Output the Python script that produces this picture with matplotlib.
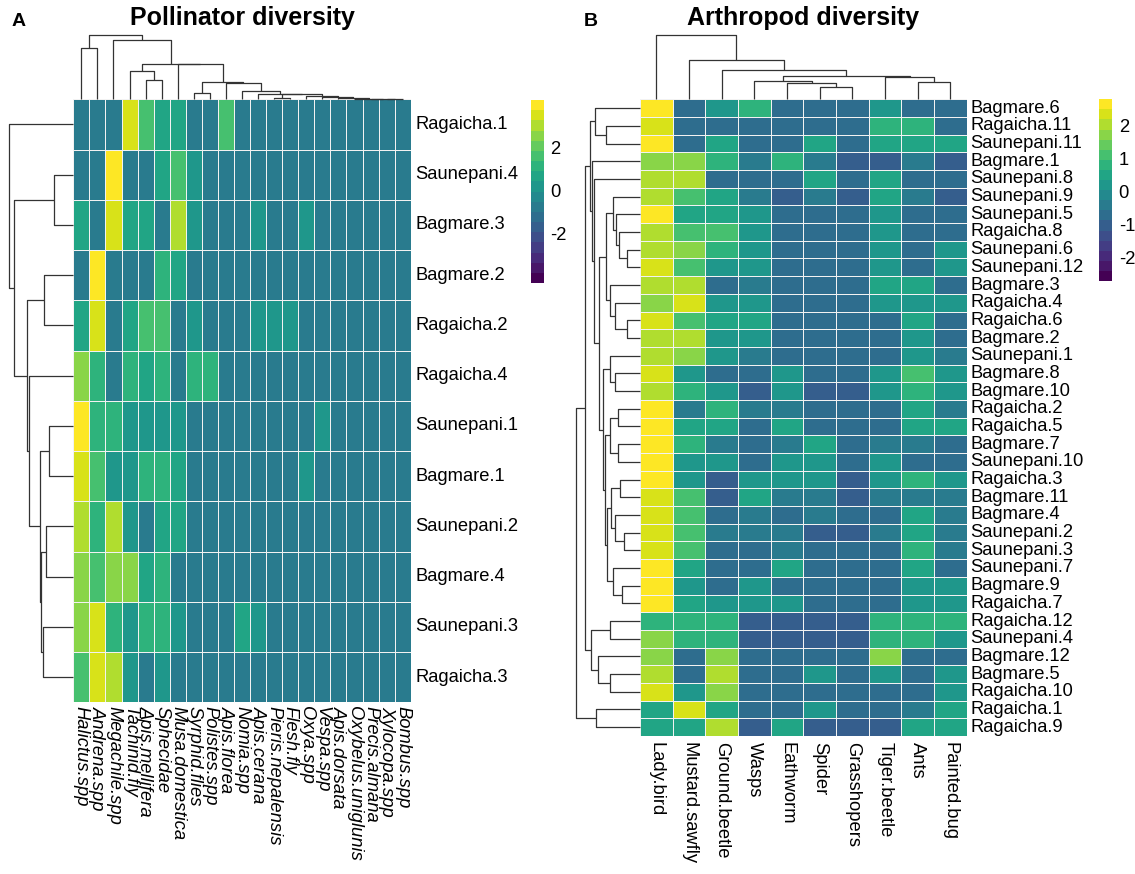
import numpy as np
import matplotlib
matplotlib.use("Agg")
import matplotlib.pyplot as plt
from matplotlib.colors import ListedColormap, BoundaryNorm
from matplotlib.transforms import offset_copy

plt.rcParams['font.family'] = ['Liberation Sans', 'DejaVu Sans']

# ---------------- Panel A data ----------------
pol_rows = ["Ragaicha.1", "Saunepani.4", "Bagmare.3", "Bagmare.2", "Ragaicha.2",
            "Ragaicha.4", "Saunepani.1", "Bagmare.1", "Saunepani.2", "Bagmare.4",
            "Saunepani.3", "Ragaicha.3"]
pol_cols = ["Halictus.spp", "Andrena.spp", "Megachile.spp", "Tachinid.fly",
            "Apis.mellifera", "Sphecidae", "Musa.domestica", "Syrphid.flies",
            "Polistes.spp", "Apis.florea", "Nomia.spp", "Apis.cerana",
            "Pieris.nepalensis", "Flesh.fly", "Oxya.spp", "Vespa.spp",
            "Apis.dorsata", "Oxybelus.uniglunis", "Precis.almana",
            "Xylocopa.spp", "Bombus.spp"]
pol_values = [
    [-0.75, -0.75, -0.75, 3.5, 1.6, 0.65, 0.65, -0.75, -0.75, 1.6, -0.75, -0.75, -0.75, -0.75, -0.75, -0.75, -0.75, -0.75, -0.75, -0.75, -0.75],
    [-0.75, -0.75, 4.0, -0.75, -0.75, 0.65, 1.6, 0.2, -0.75, -0.75, -0.75, -0.75, -0.75, -0.75, -0.75, -0.75, -0.75, -0.75, -0.75, -0.75, -0.75],
    [0.65, -0.75, 3.5, 0.65, 0.65, -0.75, 3.0, 0.2, -0.75, -0.75, -0.75, 0.2, -0.75, -0.75, 0.2, -0.75, -0.75, -0.75, -0.75, -0.75, -0.75],
    [-0.75, 4.0, -0.75, -0.75, -0.75, 1.1, 0.65, -0.75, -0.75, -0.75, -0.75, -0.75, -0.75, -0.75, -0.75, -0.75, -0.75, -0.75, -0.75, -0.75, -0.75],
    [0.65, 3.5, -0.75, 0.65, 1.6, 1.6, -0.75, 0.2, -0.75, -0.75, -0.75, 0.2, 0.2, 0.2, -0.75, -0.75, -0.75, -0.75, -0.75, -0.75, -0.75],
    [2.5, 1.1, -0.75, 1.1, 0.65, 1.1, -0.75, 1.1, 1.1, -0.75, -0.75, -0.75, -0.75, -0.75, -0.75, -0.75, -0.75, -0.75, -0.75, -0.75, -0.75],
    [4.0, 1.1, 1.1, 0.2, 0.2, 0.2, 0.2, -0.75, -0.75, -0.75, -0.75, -0.75, -0.75, -0.75, -0.75, 0.2, -0.75, -0.75, -0.75, -0.75, -0.75],
    [3.5, 1.6, 0.2, 0.2, 1.1, 1.1, 0.65, -0.75, -0.75, -0.75, -0.75, -0.75, -0.75, -0.75, 0.2, -0.75, -0.75, -0.75, -0.75, -0.75, -0.75],
    [3.0, 1.1, 3.0, 0.2, -0.75, 0.65, 0.65, -0.75, -0.75, -0.75, -0.75, -0.75, -0.75, -0.75, -0.75, -0.75, -0.75, -0.75, -0.75, -0.75, -0.75],
    [2.5, 1.6, 2.5, 2.5, 0.65, 1.1, -0.75, -0.75, -0.75, -0.75, -0.75, -0.75, -0.75, -0.75, -0.75, -0.75, -0.75, -0.75, -0.75, -0.75, -0.75],
    [2.5, 3.5, 1.1, 0.2, 1.1, 1.1, 0.2, -0.75, -0.75, -0.75, 0.65, 0.2, -0.75, -0.75, -0.75, -0.75, -0.75, -0.75, -0.75, -0.75, -0.75],
    [1.6, 3.5, 3.0, 0.2, -0.75, 0.2, -0.75, -0.75, -0.75, -0.75, -0.75, -0.75, -0.75, -0.75, -0.75, -0.75, -0.75, -0.75, -0.75, -0.75, -0.75],
]
pol_range = (-4.3, 4.2)
pol_ticks = [2, 0, -2]
# dendrogram merges: (child a, child b, height); ids >= n refer to earlier merges
pol_col_tree = [
    (0, 1, 0.797), (4, 5, 0.307), (3, 22, 0.443), (7, 8, 0.094),
    (19, 20, 0.003), (18, 25, 0.005), (17, 26, 0.008), (16, 27, 0.02),
    (15, 28, 0.031), (14, 29, 0.057), (12, 13, 0.015), (31, 30, 0.078),
    (11, 32, 0.09), (10, 33, 0.130), (9, 34, 0.25), (24, 35, 0.266),
    (6, 36, 0.547), (23, 37, 0.557), (2, 38, 0.922), (21, 39, 1.0),
]
pol_row_tree = [
    (1, 2, 0.304), (3, 4, 0.461), (6, 7, 0.372), (8, 9, 0.429),
    (10, 11, 0.471), (15, 16, 0.503), (14, 17, 0.524), (5, 18, 0.691),
    (13, 19, 0.723), (12, 20, 0.927), (0, 21, 1.0),
]

# ---------------- Panel B data ----------------
art_rows = ["Bagmare.6", "Ragaicha.11", "Saunepani.11", "Bagmare.1", "Saunepani.8",
            "Saunepani.9", "Saunepani.5", "Ragaicha.8", "Saunepani.6", "Saunepani.12",
            "Bagmare.3", "Ragaicha.4", "Ragaicha.6", "Bagmare.2", "Saunepani.1",
            "Bagmare.8", "Bagmare.10", "Ragaicha.2", "Ragaicha.5", "Bagmare.7",
            "Saunepani.10", "Ragaicha.3", "Bagmare.11", "Bagmare.4", "Saunepani.2",
            "Saunepani.3", "Saunepani.7", "Bagmare.9", "Ragaicha.7", "Ragaicha.12",
            "Saunepani.4", "Bagmare.12", "Bagmare.5", "Ragaicha.10", "Ragaicha.1",
            "Ragaicha.9"]
art_cols = ["Lady.bird", "Mustard.sawfly", "Ground.beetle", "Wasps", "Eathworm",
            "Spider", "Grasshopers", "Tiger.beetle", "Ants", "Painted.bug"]
art_values = [
    [2.7, -0.7, 0.2, 0.8, -0.7, -0.7, -0.7, 0.2, -0.7, -0.7],
    [2.35, -0.7, -0.7, -0.7, -0.7, -0.7, -0.7, 0.8, 0.8, -0.7],
    [2.7, -0.7, 0.5, -0.7, -0.7, 0.5, -0.7, 0.5, 0.5, 0.5],
    [1.7, 1.7, 0.8, -0.4, 0.8, -0.4, -1.0, -1.0, -0.4, -1.0],
    [2.0, 2.0, -0.7, -0.7, -0.7, 0.5, -0.7, 0.5, -0.7, -0.7],
    [2.0, 1.1, 0.5, -0.4, -1.0, -0.4, -1.0, 0.5, -0.4, -1.0],
    [2.7, 0.5, 0.5, 0.2, -0.7, -0.7, -0.7, 0.2, -0.7, -0.7],
    [2.0, 1.1, 1.1, 0.2, -0.7, -0.7, -0.7, 0.2, -0.7, -0.7],
    [2.0, 1.7, 0.8, 0.2, -0.7, -0.7, -0.7, 0.2, -0.7, 0.2],
    [2.35, 1.1, 0.2, 0.2, -0.7, -0.7, -0.7, 0.2, -0.7, 0.2],
    [2.0, 2.0, -0.7, -0.4, -0.7, -0.7, -0.7, 0.5, 0.5, -0.7],
    [1.7, 2.35, 0.2, 0.2, -0.7, -0.7, -0.7, 0.2, 0.2, 0.2],
    [2.35, 1.1, 0.5, 0.5, -0.7, -0.7, -0.7, -0.7, 0.5, -0.7],
    [2.0, 2.0, 0.2, 0.2, -0.7, -0.7, -0.7, -0.7, 0.2, -0.7],
    [2.0, 1.7, 0.2, -0.4, -0.7, -0.7, -0.7, -0.7, 0.2, -0.4],
    [2.35, 0.2, -0.7, -0.7, 0.2, -0.7, -0.7, 0.2, 1.1, 0.2],
    [2.0, 0.8, 0.2, -1.0, 0.2, -1.0, -1.0, 0.2, 0.8, 0.2],
    [2.7, -0.4, 0.8, -0.4, -0.4, -0.7, -0.7, -0.7, 0.5, -0.4],
    [2.7, 0.5, 0.5, -0.7, 0.5, -0.7, -0.7, -0.7, 0.5, 0.5],
    [2.7, 0.8, -0.4, -0.7, -0.4, 0.5, -0.7, -0.4, -0.4, -0.7],
    [2.7, 0.2, 0.2, -0.7, 0.2, 0.2, -0.7, 0.2, -0.7, -0.7],
    [2.7, 0.2, -1.0, 0.2, 0.2, 0.2, -1.0, 0.2, 0.8, 0.2],
    [2.35, 1.1, -1.0, 0.5, -0.4, -0.4, -1.0, -0.4, -0.4, -0.4],
    [2.35, 1.1, -0.7, -0.4, -0.7, -0.4, -0.7, -0.7, 0.5, -0.4],
    [2.35, 1.1, -0.4, -0.4, -0.4, -1.0, -1.0, -0.4, 0.5, -0.4],
    [2.35, 1.1, -0.7, -0.7, -0.4, -0.7, -0.7, -0.7, 0.8, -0.4],
    [2.7, 0.5, -0.7, -0.7, 0.5, -0.7, -0.7, -0.7, 0.5, -0.7],
    [2.7, 0.2, -0.7, 0.2, -0.7, -0.7, -0.7, -0.7, 0.2, 0.2],
    [2.7, 0.5, 0.2, 0.2, 0.2, -0.7, -0.7, -0.7, 0.2, 0.2],
    [0.8, 0.8, 0.8, -1.0, -1.0, -1.0, -1.0, 0.8, 0.8, 0.8],
    [1.7, 0.8, 0.8, -1.0, -1.0, -1.0, -1.0, 0.8, 0.8, 0.2],
    [1.7, -0.7, 1.7, -0.7, -0.7, -0.7, -0.7, 1.7, -0.7, -0.7],
    [2.0, -0.7, 2.0, -0.7, -0.7, 0.2, -0.7, 0.2, -0.7, 0.2],
    [2.35, 0.2, 1.7, -0.7, -0.7, -0.7, -0.7, -0.7, -0.7, 0.2],
    [0.5, 2.35, 0.5, -0.7, -0.7, 0.2, -0.7, -0.7, -0.4, 0.5],
    [0.5, 0.5, 2.0, -1.0, 0.5, -1.0, -1.0, -1.0, 0.5, 0.5],
]
art_range = (-2.7, 2.8)
art_ticks = [2, 1, 0, -1, -2]
art_col_tree = [
    (5, 6, 0.198), (4, 10, 0.25), (3, 11, 0.281), (8, 9, 0.27),
    (7, 13, 0.344), (12, 14, 0.359), (2, 15, 0.458), (1, 16, 0.609),
    (0, 17, 1.0),
]
art_row_tree = [
    (1, 2, 0.532), (0, 36, 0.707), (8, 9, 0.202), (7, 38, 0.335),
    (6, 39, 0.372), (5, 40, 0.415), (12, 13, 0.202), (11, 42, 0.388),
    (10, 43, 0.468), (41, 44, 0.532), (15, 16, 0.388), (14, 46, 0.468),
    (17, 18, 0.351), (19, 20, 0.351), (48, 49, 0.468), (21, 22, 0.319),
    (24, 25, 0.255), (23, 52, 0.388), (51, 53, 0.46), (27, 28, 0.282),
    (26, 55, 0.415), (54, 56, 0.521), (50, 57, 0.553), (47, 58, 0.585),
    (45, 59, 0.638), (4, 60, 0.723), (3, 61, 0.75), (37, 62, 0.777),
    (29, 30, 0.468), (32, 33, 0.468), (31, 65, 0.654), (64, 66, 0.76),
    (63, 67, 0.867), (34, 35, 0.681), (68, 69, 1.0),
]

NLEV = 18
W, H = 1135, 874
fig = plt.figure(figsize=(W / 100, H / 100), dpi=100)
LC = '#333333'
FS = 13.2


def rect(x0, y0, x1, y1):
    return [x0 / W, 1 - y1 / H, (x1 - x0) / W, (y1 - y0) / H]


def make_cmap(vrange):
    bounds = np.linspace(vrange[0], vrange[1], NLEV + 1)
    cmap = ListedColormap(plt.get_cmap('viridis')(np.linspace(0, 1, NLEV)))
    return cmap, BoundaryNorm(bounds, NLEV), bounds


def dendro_segments(n, merges):
    pos = {i: float(i) for i in range(n)}
    hgt = {i: 0.0 for i in range(n)}
    segs = []
    for k, (a, b, h) in enumerate(merges):
        xa, xb = pos[a], pos[b]
        segs.append(([xa, xa, xb, xb], [hgt[a], h, h, hgt[b]]))
        pos[n + k] = (xa + xb) / 2
        hgt[n + k] = h
    return segs


def panel(box, rows, cols, values, vrange, ticks, row_tree, col_tree,
          cbar_box, title, letter, letter_x, italic_cols, lpad, cpad):
    x0, y0, x1, y1 = box
    data = np.array(values)
    nr, nc = data.shape
    cmap, norm, bounds = make_cmap(vrange)

    ax = fig.add_axes(rect(x0, y0, x1, y1))
    ax.pcolormesh(np.arange(nc + 1), np.arange(nr + 1), data, cmap=cmap,
                  norm=norm, edgecolors='#f2f2f2', linewidth=0.55)
    ax.set_xlim(0, nc)
    ax.set_ylim(nr, 0)
    ax.axis('off')

    rtrans = offset_copy(ax.transData, fig=fig, x=lpad, y=0, units='dots')
    for i, lab in enumerate(rows):
        ax.text(nc, i + 0.5, lab, transform=rtrans, ha='left', va='center',
                fontsize=FS, color='black')
    ctrans = offset_copy(ax.transData, fig=fig, x=0, y=-cpad, units='dots')
    for j, lab in enumerate(cols):
        ax.text(j + 0.5, nr, lab, transform=ctrans, ha='center', va='top',
                rotation=270, fontsize=FS, color='black',
                fontstyle='italic' if italic_cols else 'normal')

    # top dendrogram
    top_h = 64
    axt = fig.add_axes(rect(x0, y0 - top_h, x1, y0))
    for xs, ys in dendro_segments(nc, col_tree):
        axt.plot(np.array(xs), ys, color=LC, lw=0.9, solid_capstyle='butt',
                 clip_on=False)
    axt.set_xlim(-0.5, nc - 0.5)
    axt.set_ylim(0, 1)
    axt.axis('off')

    # left dendrogram
    left_w = 64
    axl = fig.add_axes(rect(x0 - left_w, y0, x0, y1))
    for xs, ys in dendro_segments(nr, row_tree):
        axl.plot(ys, np.array(xs), color=LC, lw=0.9, solid_capstyle='butt',
                 clip_on=False)
    axl.set_xlim(1, 0)
    axl.set_ylim(nr - 0.5, -0.5)
    axl.axis('off')

    # colour legend
    axc = fig.add_axes(rect(*cbar_box))
    mids = ((bounds[:-1] + bounds[1:]) / 2).reshape(-1, 1)
    axc.pcolormesh(np.array([0, 1]), bounds, mids, cmap=cmap, norm=norm)
    axc.set_ylim(vrange[0], vrange[1])
    axc.set_xlim(0, 1)
    for s in axc.spines.values():
        s.set_visible(False)
    axc.set_xticks([])
    axc.yaxis.tick_right()
    axc.set_yticks(ticks)
    axc.set_yticklabels([str(t) for t in ticks])
    axc.tick_params(axis='y', length=0, pad=5, labelsize=FS)

    fig.text(((x0 + x1) / 2) / W, 1 - 18 / H, title, ha='center', va='center',
             fontsize=18, fontweight='bold')
    fig.text(letter_x / W, 1 - 21 / H, letter, ha='left', va='center',
             fontsize=14, fontweight='bold')


panel((73.3, 99.3, 410.7, 702.3), pol_rows, pol_cols, pol_values, pol_range,
      pol_ticks, pol_row_tree, pol_col_tree, (531, 100, 543.5, 283),
      "Pollinator diversity", "A", 12, True, 4.5, 4)
panel((640.0, 99.3, 966.7, 736.0), art_rows, art_cols, art_values, art_range,
      art_ticks, art_row_tree, art_col_tree, (1099.3, 99.3, 1111.7, 281),
      "Arthropod diversity", "B", 584, False, 3.5, 6)

fig.savefig("out.png", dpi=100, facecolor='white')
